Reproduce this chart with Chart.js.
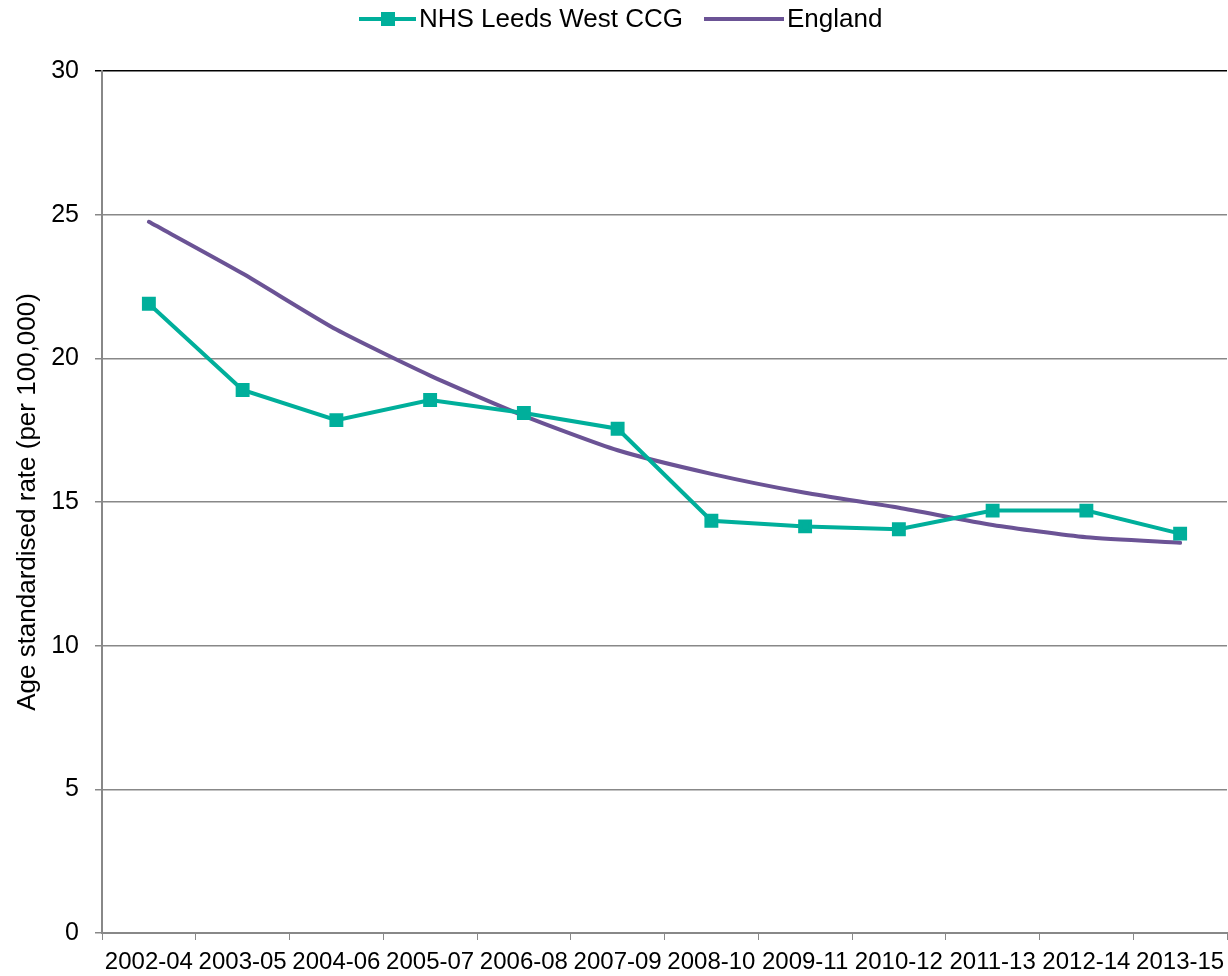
<!DOCTYPE html>
<html>
<head>
<meta charset="utf-8">
<script src="https://cdn.jsdelivr.net/npm/chart.js@4"></script>
<style>
  html, body { margin: 0; padding: 0; background: #fff; }
  #wrap { position: relative; width: 1228px; height: 976px; }
</style>
</head>
<body>
<div id="wrap"><canvas id="chart" width="1228" height="976"></canvas></div>
<script>
// Data
const periods = ['2002-04', '2003-05', '2004-06', '2005-07', '2006-08', '2007-09',
                 '2008-10', '2009-11', '2010-12', '2011-13', '2012-14', '2013-15'];
const leedsWest = [21.9, 18.9, 17.85, 18.55, 18.1, 17.55, 14.35, 14.15, 14.05, 14.7, 14.7, 13.9];
const england = [24.75, 22.95, 21.0, 19.4, 18.0, 16.8, 15.98, 15.32, 14.8, 14.2, 13.77, 13.58];
const yTicks = [0, 5, 10, 15, 20, 25, 30];

const TEAL = '#00AF9B';
const PURPLE = '#6B5395';
const FONT = "'Liberation Sans', Arial, sans-serif";

// Legend drawn at the top, centred like the original
const topLegend = {
    id: 'topLegend',
    afterDraw(chart) {
        const ctx = chart.ctx;
        ctx.save();
        ctx.font = '26px ' + FONT;
        ctx.textBaseline = 'middle';
        const y = 19;

        // NHS Leeds West CCG
        ctx.strokeStyle = TEAL;
        ctx.lineWidth = 4;
        ctx.beginPath();
        ctx.moveTo(359, y);
        ctx.lineTo(416, y);
        ctx.stroke();
        ctx.fillStyle = TEAL;
        ctx.fillRect(381, y - 7, 14, 14);
        ctx.fillStyle = '#000';
        ctx.fillText('NHS Leeds West CCG', 419, y + 1);

        // England
        ctx.strokeStyle = PURPLE;
        ctx.beginPath();
        ctx.moveTo(704, y);
        ctx.lineTo(784, y);
        ctx.stroke();
        ctx.fillText('England', 787, y + 1);
        ctx.restore();
    }
};

const ctx = document.getElementById('chart').getContext('2d');
new Chart(ctx, {
    type: 'line',
    data: {
        labels: periods,
        datasets: [
            {
                label: 'NHS Leeds West CCG',
                data: leedsWest,
                borderColor: TEAL,
                backgroundColor: TEAL,
                borderWidth: 4,
                pointStyle: 'rect',
                pointRadius: 7,
                pointHoverRadius: 7,
                tension: 0
            },
            {
                label: 'England',
                data: england,
                borderColor: PURPLE,
                backgroundColor: PURPLE,
                borderWidth: 4,
                pointRadius: 0,
                tension: 0.2,
                borderCapStyle: 'round'
            }
        ]
    },
    options: {
        responsive: false,
        animation: false,
        layout: { autoPadding: false, padding: { top: 71, right: 1, left: 0, bottom: 0 } },
        plugins: {
            legend: { display: false },
            tooltip: { enabled: false }
        },
        scales: {
            x: {
                offset: true,
                grid: {
                    offset: true,
                    drawOnChartArea: false,
                    drawTicks: true,
                    tickLength: 7,
                    color: '#888'
                },
                border: { color: '#888', width: 2 },
                ticks: {
                    color: '#000',
                    font: { family: FONT, size: 24 },
                    maxRotation: 0,
                    autoSkip: false,
                    padding: 8
                },
                afterFit(scale) {
                    scale.height = 43;
                    scale.paddingLeft = 0;
                    scale.paddingRight = 0;
                }
            },
            y: {
                min: 0,
                max: 30,
                afterBuildTicks(scale) {
                    scale.ticks = yTicks.map(v => ({ value: v }));
                },
                grid: {
                    color: c => (c.tick && c.tick.value === 30) ? '#000' : '#888',
                    lineWidth: 1.5,
                    tickLength: 7
                },
                border: { color: '#888', width: 2 },
                ticks: {
                    color: '#000',
                    font: { family: FONT, size: 25 },
                    padding: 16
                },
                title: {
                    display: true,
                    text: 'Age standardised rate (per 100,000)',
                    color: '#000',
                    font: { family: FONT, size: 26 },
                    padding: { top: 12, bottom: 0 }
                },
                afterFit(scale) { scale.width = 102; }
            }
        }
    },
    plugins: [topLegend]
});
</script>
</body>
</html>
